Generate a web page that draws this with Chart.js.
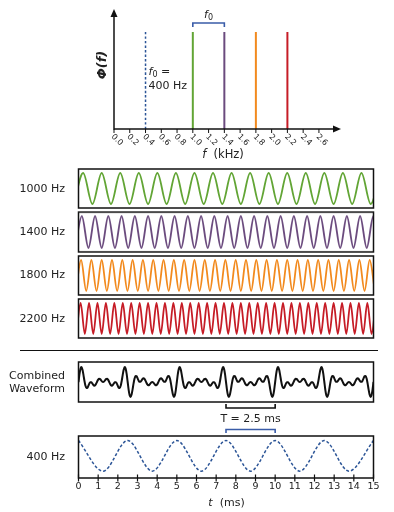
<!DOCTYPE html>
<html><head><meta charset="utf-8">
<script src="https://cdn.jsdelivr.net/npm/chart.js@4.4.1/dist/chart.umd.min.js"></script>
<style>
html,body{margin:0;padding:0;background:#fff;}
body{width:394px;height:512px;position:relative;overflow:hidden;font-family:"DejaVu Sans",sans-serif;color:#222;}
canvas{position:absolute;left:0;}
.lbl{position:absolute;right:329px;font-size:11px;text-align:right;line-height:12.5px;transform:translateY(-50%);white-space:nowrap;}
.sep{position:absolute;left:20px;width:358px;top:349.5px;height:0;border-top:1.5px solid #111;}
</style></head><body>
<div class="sep"></div>
<script>
// ---------------- DATA ----------------
// Spectrum panel (kHz)
const freqTickValues = [0,0.2,0.4,0.6,0.8,1.0,1.2,1.4,1.6,1.8,2.0,2.2,2.4,2.6];
const freqTickLabels = ['0.0','0.2','0.4','0.6','0.8','1.0','1.2','1.4','1.6','1.8','2.0','2.2','2.4','2.6'];
const componentFreqs = [1.0, 1.4, 1.8, 2.2];
const componentHeights = [1, 1, 1, 1];
const componentNames = ['1000 Hz','1400 Hz','1800 Hz','2200 Hz'];
const componentColors = ['#62a535','#6b4b7e','#f28a1e','#c61c26'];
const fundamentalFreq = 0.4;
const fundamentalHeight = 1;
const f0Bracket = [1.0, 1.4];
// Component waveforms: successive trough/peak values, one per half period (first trough just before t=0)
const wave1000 = [-1,1,-1,1,-1,1,-1,1,-1,1, -1,1,-1,1,-1,1,-1,1,-1,1, -1,1,-1,1,-1,1,-1,1,-1,1, -1,1,-1,1];
const wave1400 = [-1,1,-1,1,-1,1,-1,1,-1,1, -1,1,-1,1,-1,1,-1,1,-1,1, -1,1,-1,1,-1,1,-1,1,-1,1, -1,1,-1,1,-1,1,-1,1,-1,1, -1,1,-1,1,-1,1,-1];
const wave1800 = [-1,1,-1,1,-1,1,-1,1,-1,1, -1,1,-1,1,-1,1,-1,1,-1,1, -1,1,-1,1,-1,1,-1,1,-1,1, -1,1,-1,1,-1,1,-1,1,-1,1, -1,1,-1,1,-1,1,-1,1,-1,1, -1,1,-1,1,-1,1,-1,1,-1];
const wave2200 = [-1,1,-1,1,-1,1,-1,1,-1,1, -1,1,-1,1,-1,1,-1,1,-1,1, -1,1,-1,1,-1,1,-1,1,-1,1, -1,1,-1,1,-1,1,-1,1,-1,1, -1,1,-1,1,-1,1,-1,1,-1,1, -1,1,-1,1,-1,1,-1,1,-1,1, -1,1,-1,1,-1,1,-1,1,-1,1, -1,1];
const waveSets = [wave1000, wave1400, wave1800, wave2200];
const wavePanelSpan = 15.9; // ms shown in the component panels
// Combined waveform, sampled every 0.05 ms from 0 to 15 ms
const combinedStep = 0.05;
const combined = [
 0,1.91,3.25,3.65,3.07,1.81,0.34,-0.85,-1.45,-1.41,-0.95,-0.40,-0.05,-0.04,-0.33,-0.69,-0.90,-0.80,-0.40,0.13,0.59,0.79,0.70,0.41,0.12,0,0.12,0.41,0.70,0.79,0.59,0.13,-0.40,-0.80,-0.90,-0.69,-0.33,-0.04,-0.05,-0.40,-0.95,-1.41,-1.45,-0.85,0.34,1.81,3.07,3.65,3.25,1.91,
 0,-1.91,-3.25,-3.65,-3.07,-1.81,-0.34,0.85,1.45,1.41,0.95,0.40,0.05,0.04,0.33,0.69,0.90,0.80,0.40,-0.13,-0.59,-0.79,-0.70,-0.41,-0.12,0,-0.12,-0.41,-0.70,-0.79,-0.59,-0.13,0.40,0.80,0.90,0.69,0.33,0.04,0.05,0.40,0.95,1.41,1.45,0.85,-0.34,-1.81,-3.07,-3.65,-3.25,-1.91,
 0,1.91,3.25,3.65,3.07,1.81,0.34,-0.85,-1.45,-1.41,-0.95,-0.40,-0.05,-0.04,-0.33,-0.69,-0.90,-0.80,-0.40,0.13,0.59,0.79,0.70,0.41,0.12,0,0.12,0.41,0.70,0.79,0.59,0.13,-0.40,-0.80,-0.90,-0.69,-0.33,-0.04,-0.05,-0.40,-0.95,-1.41,-1.45,-0.85,0.34,1.81,3.07,3.65,3.25,1.91,
 0,-1.91,-3.25,-3.65,-3.07,-1.81,-0.34,0.85,1.45,1.41,0.95,0.40,0.05,0.04,0.33,0.69,0.90,0.80,0.40,-0.13,-0.59,-0.79,-0.70,-0.41,-0.12,0,-0.12,-0.41,-0.70,-0.79,-0.59,-0.13,0.40,0.80,0.90,0.69,0.33,0.04,0.05,0.40,0.95,1.41,1.45,0.85,-0.34,-1.81,-3.07,-3.65,-3.25,-1.91,
 0,1.91,3.25,3.65,3.07,1.81,0.34,-0.85,-1.45,-1.41,-0.95,-0.40,-0.05,-0.04,-0.33,-0.69,-0.90,-0.80,-0.40,0.13,0.59,0.79,0.70,0.41,0.12,0,0.12,0.41,0.70,0.79,0.59,0.13,-0.40,-0.80,-0.90,-0.69,-0.33,-0.04,-0.05,-0.40,-0.95,-1.41,-1.45,-0.85,0.34,1.81,3.07,3.65,3.25,1.91,
 0,-1.91,-3.25,-3.65,-3.07,-1.81,-0.34,0.85,1.45,1.41,0.95,0.40,0.05,0.04,0.33,0.69,0.90,0.80,0.40,-0.13,-0.59,-0.79,-0.70,-0.41,-0.12,0,-0.12,-0.41,-0.70,-0.79,-0.59,-0.13,0.40,0.80,0.90,0.69,0.33,0.04,0.05,0.40,0.95,1.41,1.45,0.85,-0.34,-1.81,-3.07,-3.65,-3.25,-1.91,
 0];
// 400 Hz reference: peak/trough values every 1.25 ms from 0 to 15 ms
const ref400Step = 1.25;
const ref400 = [1,-1,1,-1,1,-1,1,-1,1,-1,1,-1,1];
const timeTicks = [0,1,2,3,4,5,6,7,8,9,10,11,12,13,14,15];
const periodBracket = [7.5, 10];
const periodLabel = 'T = 2.5 ms';

// ---------------- HELPERS ----------------
const FF = '"DejaVu Sans", sans-serif';
const INK = '#222';
function addCanvas(top, h){
  const c = document.createElement('canvas');
  c.width = 394; c.height = h;
  c.style.top = top + 'px'; c.style.width = '394px'; c.style.height = h + 'px';
  document.body.appendChild(c);
  return c;
}
function addLabel(text, cy){
  const d = document.createElement('div');
  d.className = 'lbl'; d.style.top = cy + 'px'; d.innerHTML = text;
  document.body.appendChild(d);
}
function richText(ctx, parts, x, y, align){
  let w = 0;
  parts.forEach(p => { ctx.font = p.font; p.w = ctx.measureText(p.t).width; w += p.w; });
  let cx = align === 'center' ? x - w/2 : (align === 'right' ? x - w : x);
  ctx.textAlign = 'left';
  parts.forEach(p => { ctx.font = p.font; ctx.fillText(p.t, cx, y + (p.dy || 0)); cx += p.w; });
}
function baseOptions(pad, xmin, xmax, ymin, ymax){
  return {
    responsive:false, animation:false, events:[], devicePixelRatio:1,
    layout:{padding:pad},
    plugins:{legend:{display:false}, tooltip:{enabled:false}},
    scales:{
      x:{type:'linear', min:xmin, max:xmax, display:false},
      y:{type:'linear', min:ymin, max:ymax, display:false}
    },
    elements:{point:{radius:0}, line:{cubicInterpolationMode:'monotone'}}
  };
}
const boxPlugin = {
  id:'box',
  afterDatasetsDraw(chart){
    const {ctx, chartArea:a} = chart;
    ctx.save(); ctx.strokeStyle = '#111'; ctx.lineWidth = 1.5;
    ctx.strokeRect(a.left, a.top, a.right - a.left, a.bottom - a.top);
    ctx.restore();
  }
};

// ---------------- TOP: SPECTRUM ----------------
(function(){
  const c = addCanvas(0, 165);
  const datasets = componentFreqs.map((f,i) => ({
    data:[{x:f,y:0},{x:f,y:componentHeights[i]}],
    borderColor:componentColors[i], borderWidth:2, borderCapStyle:'butt'
  }));
  datasets.push({
    data:[{x:fundamentalFreq,y:0},{x:fundamentalFreq,y:fundamentalHeight}],
    borderColor:'#2c5597', borderWidth:1.5, borderDash:[2.5,2]
  });
  const deco = {
    id:'topDeco',
    afterDraw(chart){
      const {ctx, chartArea:a, scales:{x:xs, y:ys}} = chart;
      ctx.save();
      ctx.strokeStyle = '#111'; ctx.fillStyle = '#111'; ctx.lineWidth = 1.5;
      // axes with arrows
      ctx.beginPath(); ctx.moveTo(a.left, a.bottom); ctx.lineTo(a.right - 6, a.bottom); ctx.stroke();
      ctx.beginPath(); ctx.moveTo(a.right, a.bottom); ctx.lineTo(a.right - 8, a.bottom - 3.5); ctx.lineTo(a.right - 8, a.bottom + 3.5); ctx.closePath(); ctx.fill();
      ctx.beginPath(); ctx.moveTo(a.left, a.bottom + 0.75); ctx.lineTo(a.left, a.top + 6); ctx.stroke();
      ctx.beginPath(); ctx.moveTo(a.left, a.top); ctx.lineTo(a.left - 3.5, a.top + 8); ctx.lineTo(a.left + 3.5, a.top + 8); ctx.closePath(); ctx.fill();
      // ticks + rotated labels
      ctx.lineWidth = 1;
      freqTickValues.forEach((v,i) => {
        const x = xs.getPixelForValue(v);
        ctx.beginPath(); ctx.moveTo(x, a.bottom); ctx.lineTo(x, a.bottom + 4); ctx.stroke();
        ctx.save();
        ctx.translate(x + 3, a.bottom + 11);
        ctx.rotate(Math.PI / 4);
        ctx.fillStyle = INK; ctx.font = '8px ' + FF; ctx.textAlign = 'center'; ctx.textBaseline = 'middle';
        ctx.fillText(freqTickLabels[i], 0, 0);
        ctx.restore();
      });
      // f0 bracket
      const top1 = ys.getPixelForValue(componentHeights[0]);
      const bx1 = xs.getPixelForValue(f0Bracket[0]), bx2 = xs.getPixelForValue(f0Bracket[1]);
      ctx.strokeStyle = '#3a5ca8'; ctx.lineWidth = 1.6;
      ctx.beginPath(); ctx.moveTo(bx1, top1 - 5); ctx.lineTo(bx1, top1 - 9); ctx.lineTo(bx2, top1 - 9); ctx.lineTo(bx2, top1 - 5); ctx.stroke();
      ctx.fillStyle = INK; ctx.textBaseline = 'middle';
      richText(ctx, [{t:'f', font:'italic 11px ' + FF}, {t:'0', font:'8px ' + FF, dy:3}], (bx1 + bx2)/2, top1 - 17, 'center');
      // f0 = 400 Hz annotation
      const ax = xs.getPixelForValue(fundamentalFreq) + 3;
      richText(ctx, [{t:'f', font:'italic 11px ' + FF}, {t:'0', font:'8px ' + FF, dy:3}, {t:' =', font:'11px ' + FF}], ax, a.bottom - 57, 'left');
      richText(ctx, [{t:'400 Hz', font:'11px ' + FF}], ax, a.bottom - 43, 'left');
      // x label
      richText(ctx, [{t:'f', font:'italic 11.5px ' + FF}, {t:'  (kHz)', font:'11.5px ' + FF}], 223, a.bottom + 26, 'center');
      // y label
      ctx.save(); ctx.translate(103, 65); ctx.rotate(-Math.PI/2);
      richText(ctx, [{t:'\u03A6(f)', font:'italic bold 13px ' + FF}], 0, 0, 'center');
      ctx.restore();
      ctx.restore();
    }
  };
  new Chart(c, {type:'line', data:{datasets}, options:baseOptions({left:114, right:53, top:9, bottom:36}, 0, 2.88, 0, 1.237), plugins:[deco]});
})();

// ---------------- COMPONENT PANELS ----------------
const panelTops = [169, 212.3, 255.7, 299];
const panelH = 39.3;
componentFreqs.forEach((f,i) => {
  const c = addCanvas(panelTops[i] - 4, panelH + 8);
  const data = waveSets[i].map((v,k) => ({x:(2*k - 1)/(4*f), y:v}));
  new Chart(c, {type:'line', data:{datasets:[{data, borderColor:componentColors[i], borderWidth:1.8}]},
    options:baseOptions({left:78.5, right:20.5, top:4, bottom:4}, 0, wavePanelSpan, -1.26, 1.26), plugins:[boxPlugin]});
  addLabel(componentNames[i], panelTops[i] + panelH/2);
});

// ---------------- COMBINED ----------------
(function(){
  const c = addCanvas(356, 50);
  const data = combined.map((v,k) => ({x:k*combinedStep, y:v}));
  new Chart(c, {type:'line', data:{datasets:[{data, borderColor:'#111', borderWidth:2}]},
    options:baseOptions({left:78.5, right:20.5, top:6, bottom:4}, 0, 15, -4.9, 4.9), plugins:[boxPlugin]});
  addLabel('Combined<br>Waveform', 382);
})();

// ---------------- 400 Hz ----------------
(function(){
  const c = addCanvas(398, 114);
  const data = ref400.map((v,k) => ({x:k*ref400Step, y:v}));
  const deco = {
    id:'bottomDeco',
    afterDraw(chart){
      const {ctx, chartArea:a, scales:{x:xs}} = chart;
      ctx.save();
      ctx.strokeStyle = '#111'; ctx.lineWidth = 1.2; ctx.fillStyle = INK;
      ctx.font = '9.5px ' + FF; ctx.textAlign = 'center'; ctx.textBaseline = 'middle';
      timeTicks.forEach(v => {
        const x = xs.getPixelForValue(v);
        ctx.beginPath(); ctx.moveTo(x, a.bottom - 3.5); ctx.lineTo(x, a.bottom + 3.5); ctx.stroke();
        ctx.fillText(String(v), x, a.bottom + 9);
      });
      ctx.textBaseline = 'middle';
      richText(ctx, [{t:'t', font:'italic 11px ' + FF}, {t:'  (ms)', font:'11px ' + FF}], 226.5, a.bottom + 25, 'center');
      // period brackets
      const x1 = xs.getPixelForValue(periodBracket[0]), x2 = xs.getPixelForValue(periodBracket[1]);
      ctx.lineWidth = 1.6; ctx.strokeStyle = '#111';
      ctx.beginPath(); ctx.moveTo(x1, a.top - 32); ctx.lineTo(x1, a.top - 28); ctx.lineTo(x2, a.top - 28); ctx.lineTo(x2, a.top - 32); ctx.stroke();
      ctx.strokeStyle = '#3a5ca8';
      ctx.beginPath(); ctx.moveTo(x1, a.top - 3); ctx.lineTo(x1, a.top - 6.5); ctx.lineTo(x2, a.top - 6.5); ctx.lineTo(x2, a.top - 3); ctx.stroke();
      ctx.fillStyle = INK;
      richText(ctx, [{t:periodLabel, font:'11px ' + FF}], (x1 + x2)/2, a.top - 17, 'center');
      ctx.restore();
    }
  };
  new Chart(c, {type:'line', data:{datasets:[{data, borderColor:'#2c5597', borderWidth:1.5, borderDash:[3,2]}]},
    options:baseOptions({left:78.5, right:20.5, top:38, bottom:34}, 0, 15, -1.45, 1.3), plugins:[boxPlugin, deco]});
  addLabel('400 Hz', 457);
})();
</script>
</body></html>
